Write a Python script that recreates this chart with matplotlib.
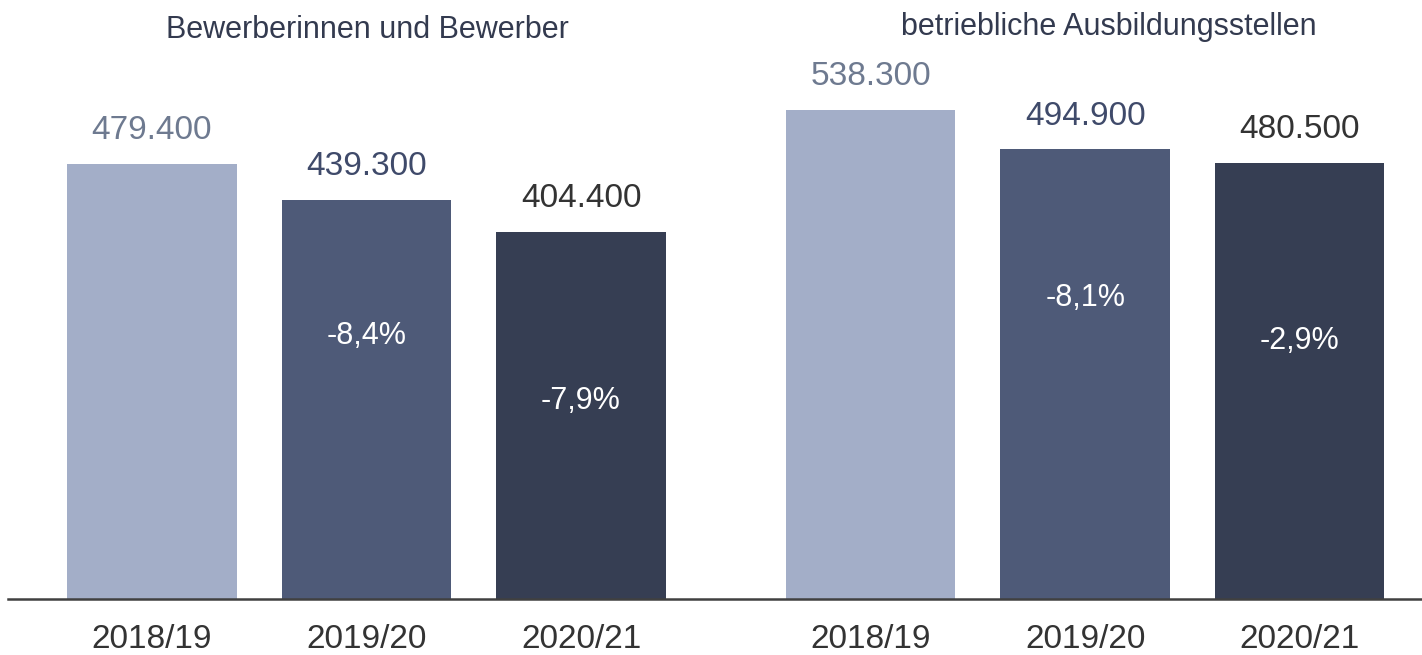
import matplotlib
matplotlib.use("Agg")
from matplotlib import pyplot as plt

plt.rcParams['font.family'] = ['Liberation Sans', 'DejaVu Sans']

# Daten
years = ["2018/19", "2019/20", "2020/21"]
bewerber = [479400, 439300, 404400]
stellen = [538300, 494900, 480500]
titles = ["Bewerberinnen und Bewerber", "betriebliche Ausbildungsstellen"]

bar_colors = ["#a3aec8", "#4e5a78", "#363e53"]
value_colors = ["#6e7a90", "#3f4a6a", "#333333"]
# Höhe der Prozent-Beschriftung als Anteil der Balkenhöhe
pct_frac = [0.66, 0.54]
pct_frac_r = [0.67, 0.59]

def fmt_num(v):
    return f"{v:,}".replace(",", ".")

def fmt_pct(new, old):
    return f"{(new - old) / old * 100:.1f}%".replace(".", ",")

fig = plt.figure(figsize=(14.22, 6.55), dpi=100)
ax = fig.add_axes([8 / 1422, 56 / 655, 1 - 8 / 1422, 545 / 655])

gruppen = [(bewerber, 0.0, pct_frac), (stellen, 3.35, pct_frac_r)]
xs_all, labels_all = [], []
for werte, start, fracs in gruppen:
    xs = [start + i for i in range(len(werte))]
    ax.bar(xs, [v / 1000 for v in werte], width=0.79, color=bar_colors)
    for i, (x, v) in enumerate(zip(xs, werte)):
        ax.annotate(fmt_num(v), (x, v / 1000), xytext=(0, 24),
                    textcoords="offset points", ha="center", va="center",
                    fontsize=24, color=value_colors[i])
        if i > 0:
            ax.text(x, v / 1000 * fracs[i - 1], fmt_pct(v, werte[i - 1]),
                    ha="center", va="center", fontsize=22, color="white")
    xs_all += xs
    labels_all += years

ax.set_xlim(-0.671, 5.92)
ax.set_ylim(0, 600)
ax.set_xticks(xs_all)
ax.set_xticklabels(labels_all, fontsize=24, color="#333333")
ax.tick_params(axis="x", length=0, pad=18)
ax.set_yticks([])
for s in ["top", "right", "left"]:
    ax.spines[s].set_visible(False)
ax.spines["bottom"].set_color("#404040")
ax.spines["bottom"].set_linewidth(1.8)

fig.text(367 / 1422, 1 - 30 / 655, titles[0], ha="center", va="center",
         fontsize=22, color="#333a4f")
fig.text(1109 / 1422, 1 - 27 / 655, titles[1], ha="center", va="center",
         fontsize=22, color="#333a4f")

fig.savefig("out.png", dpi=100)
